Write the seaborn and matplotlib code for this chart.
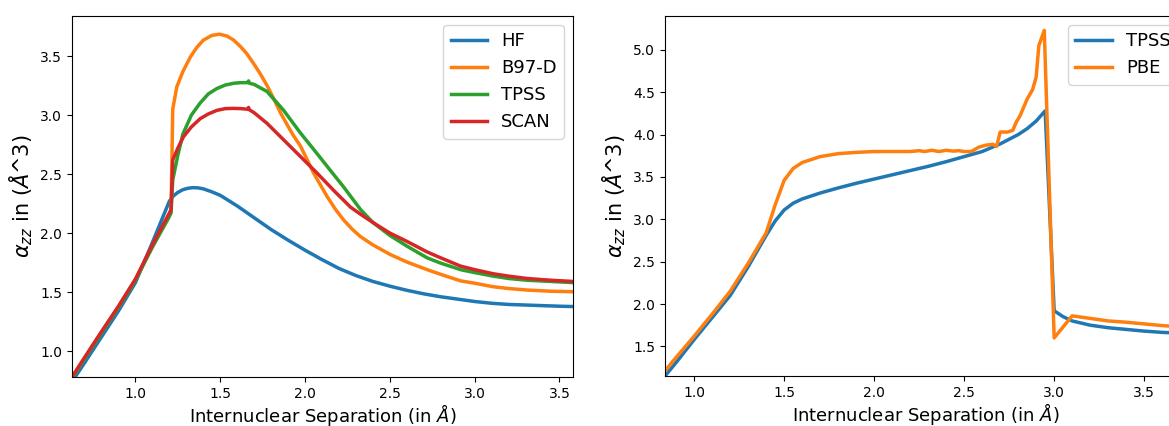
import numpy as np
import pandas as pd
import matplotlib
matplotlib.use("Agg")
import matplotlib.pyplot as plt
import seaborn as sns

# left panel: HF and three functionals (alpha_zz vs separation)
hf_x = [0.626, 0.7, 0.8, 0.9, 1.0, 1.1, 1.2, 1.22, 1.25, 1.28, 1.31, 1.34, 1.37, 1.4, 1.45, 1.5, 1.6,
        1.7, 1.8, 1.9, 2.0, 2.1, 2.2, 2.3, 2.4, 2.5, 2.6, 2.7, 2.8, 2.9, 3.0, 3.1, 3.2, 3.3, 3.4, 3.5, 3.58]
hf_y = [0.74, 0.90, 1.12, 1.34, 1.58, 1.92, 2.27, 2.31, 2.345, 2.368, 2.38, 2.385, 2.383, 2.375, 2.35,
        2.32, 2.23, 2.13, 2.03, 1.94, 1.855, 1.775, 1.70, 1.64, 1.59, 1.55, 1.515, 1.485, 1.46, 1.44,
        1.42, 1.405, 1.395, 1.39, 1.385, 1.38, 1.377]

pre_x = [0.626, 0.7, 0.8, 0.9, 1.0, 1.1, 1.2, 1.21]

b97_x = pre_x + [1.22, 1.244, 1.28, 1.323, 1.36, 1.40, 1.45, 1.496, 1.54, 1.579, 1.62, 1.657, 1.7, 1.736,
                 1.78, 1.815, 1.855, 1.894, 1.93, 1.972, 2.01, 2.05, 2.09, 2.13, 2.18, 2.228, 2.28, 2.327,
                 2.4, 2.5, 2.6, 2.72, 2.8, 2.917, 3.0, 3.11, 3.2, 3.31, 3.45, 3.58]
b97_y = [0.775, 0.94, 1.16, 1.375, 1.605, 1.89, 2.155, 2.185,
         3.05, 3.24, 3.37, 3.49, 3.57, 3.635, 3.675, 3.686, 3.67, 3.636, 3.58, 3.52, 3.43, 3.35,
         3.24, 3.14, 3.02, 2.92, 2.83, 2.74, 2.63, 2.51, 2.41, 2.31, 2.20, 2.11, 2.03, 1.97,
         1.90, 1.82, 1.755, 1.69, 1.65, 1.595, 1.575, 1.545, 1.53, 1.517, 1.507, 1.503]

tpss_x = pre_x + [1.22, 1.25, 1.28, 1.33, 1.38, 1.43, 1.48, 1.53, 1.58, 1.62, 1.66, 1.667, 1.672, 1.7,
                  1.776, 1.874, 1.972, 2.07, 2.15, 2.228, 2.327, 2.4, 2.5, 2.6, 2.72, 2.8, 2.917, 3.0,
                  3.11, 3.2, 3.31, 3.45, 3.58]
tpss_y = [0.77, 0.935, 1.155, 1.37, 1.60, 1.88, 2.14, 2.17,
          2.45, 2.66, 2.84, 3.00, 3.10, 3.18, 3.225, 3.255, 3.27, 3.275, 3.275, 3.29, 3.27, 3.26,
          3.20, 3.04, 2.85, 2.675, 2.53, 2.39, 2.20, 2.09, 1.98, 1.89, 1.79, 1.745, 1.69, 1.665,
          1.635, 1.615, 1.60, 1.59, 1.58]

scan_x = pre_x + [1.22, 1.25, 1.283, 1.33, 1.382, 1.43, 1.48, 1.53, 1.578, 1.62, 1.66, 1.667, 1.672, 1.7,
                  1.776, 1.874, 1.972, 2.07, 2.17, 2.268, 2.327, 2.4, 2.5, 2.6, 2.72, 2.8, 2.917, 3.0,
                  3.11, 3.2, 3.31, 3.45, 3.58]
scan_y = [0.78, 0.945, 1.165, 1.38, 1.61, 1.90, 2.17, 2.20,
          2.62, 2.72, 2.816, 2.90, 2.97, 3.01, 3.04, 3.055, 3.057, 3.055, 3.05, 3.065, 3.045, 3.02,
          2.93, 2.79, 2.65, 2.51, 2.36, 2.22, 2.16, 2.09, 2.00, 1.93, 1.84, 1.79, 1.72, 1.69,
          1.655, 1.635, 1.615, 1.60, 1.59]

# right panel: TPSS vs PBE
r_tpss_x = [0.838, 0.9, 1.0, 1.1, 1.2, 1.3, 1.4, 1.45, 1.5, 1.55, 1.6, 1.7, 1.8, 1.9, 2.0, 2.1, 2.2,
            2.3, 2.4, 2.5, 2.6, 2.7, 2.8, 2.85, 2.9, 2.95, 3.0, 3.05, 3.1, 3.2, 3.3, 3.4, 3.5, 3.6, 3.75]
r_tpss_y = [1.15, 1.31, 1.58, 1.84, 2.10, 2.44, 2.81, 2.98, 3.11, 3.19, 3.24, 3.31, 3.37, 3.425, 3.475,
            3.525, 3.575, 3.625, 3.68, 3.74, 3.80, 3.89, 4.00, 4.07, 4.16, 4.28, 1.92, 1.85, 1.80,
            1.75, 1.72, 1.70, 1.68, 1.665, 1.65]

pbe_x = [0.838, 0.9, 1.0, 1.1, 1.2, 1.3, 1.4, 1.45, 1.5, 1.55, 1.6, 1.7, 1.8, 1.9, 2.0, 2.1, 2.2,
         2.25, 2.28, 2.32, 2.36, 2.4, 2.44, 2.47, 2.5, 2.54, 2.58, 2.62, 2.66, 2.68, 2.70, 2.74, 2.77,
         2.79, 2.81, 2.83, 2.85, 2.88, 2.9, 2.915, 2.945, 3.0, 3.1, 3.2, 3.3, 3.4, 3.5, 3.6, 3.75]
pbe_y = [1.21, 1.37, 1.62, 1.88, 2.15, 2.48, 2.84, 3.17, 3.46, 3.60, 3.67, 3.74, 3.775, 3.79, 3.80,
         3.80, 3.80, 3.81, 3.80, 3.815, 3.80, 3.815, 3.805, 3.81, 3.80, 3.80, 3.85, 3.875, 3.885,
         3.86, 4.03, 4.03, 4.05, 4.15, 4.22, 4.32, 4.42, 4.53, 4.68, 5.05, 5.23, 1.60, 1.86, 1.83,
         1.80, 1.785, 1.765, 1.745, 1.725]

W, H = 1169, 426
fig = plt.figure(figsize=(W / 100, H / 100), dpi=100)
ax1 = fig.add_axes([72 / W, 49 / H, 501 / W, 361 / H])
ax2 = fig.add_axes([665 / W, 50 / H, 522 / W, 360 / H])

left_series = [("HF", hf_x, hf_y, "tab:blue"), ("B97-D", b97_x, b97_y, "tab:orange"),
               ("TPSS", tpss_x, tpss_y, "tab:green"), ("SCAN", scan_x, scan_y, "tab:red")]
for name, xs, ys, col in left_series:
    sns.lineplot(x=xs, y=ys, ax=ax1, color=col, lw=2.5, label=name, estimator=None, sort=False)

right_series = [("TPSS", r_tpss_x, r_tpss_y, "tab:blue"), ("PBE", pbe_x, pbe_y, "tab:orange")]
for name, xs, ys, col in right_series:
    sns.lineplot(x=xs, y=ys, ax=ax2, color=col, lw=2.5, label=name, estimator=None, sort=False)

ax1.set_xlim(0.626, 3.58)
ax1.set_ylim(0.78, 3.84)
ax2.set_xlim(0.838, 3.738)
ax2.set_ylim(1.15, 5.40)

for ax in (ax1, ax2):
    ax.set_xlabel("Internuclear Separation (in $Å$)", fontsize=13, labelpad=1)
    ax.set_ylabel(r"$\alpha_{zz}$ in ($Å$^3)", fontsize=15)
    ax.tick_params(labelsize=10)
    ax.legend(loc="upper right", fontsize=13)

fig.savefig("out.png", dpi=100)
